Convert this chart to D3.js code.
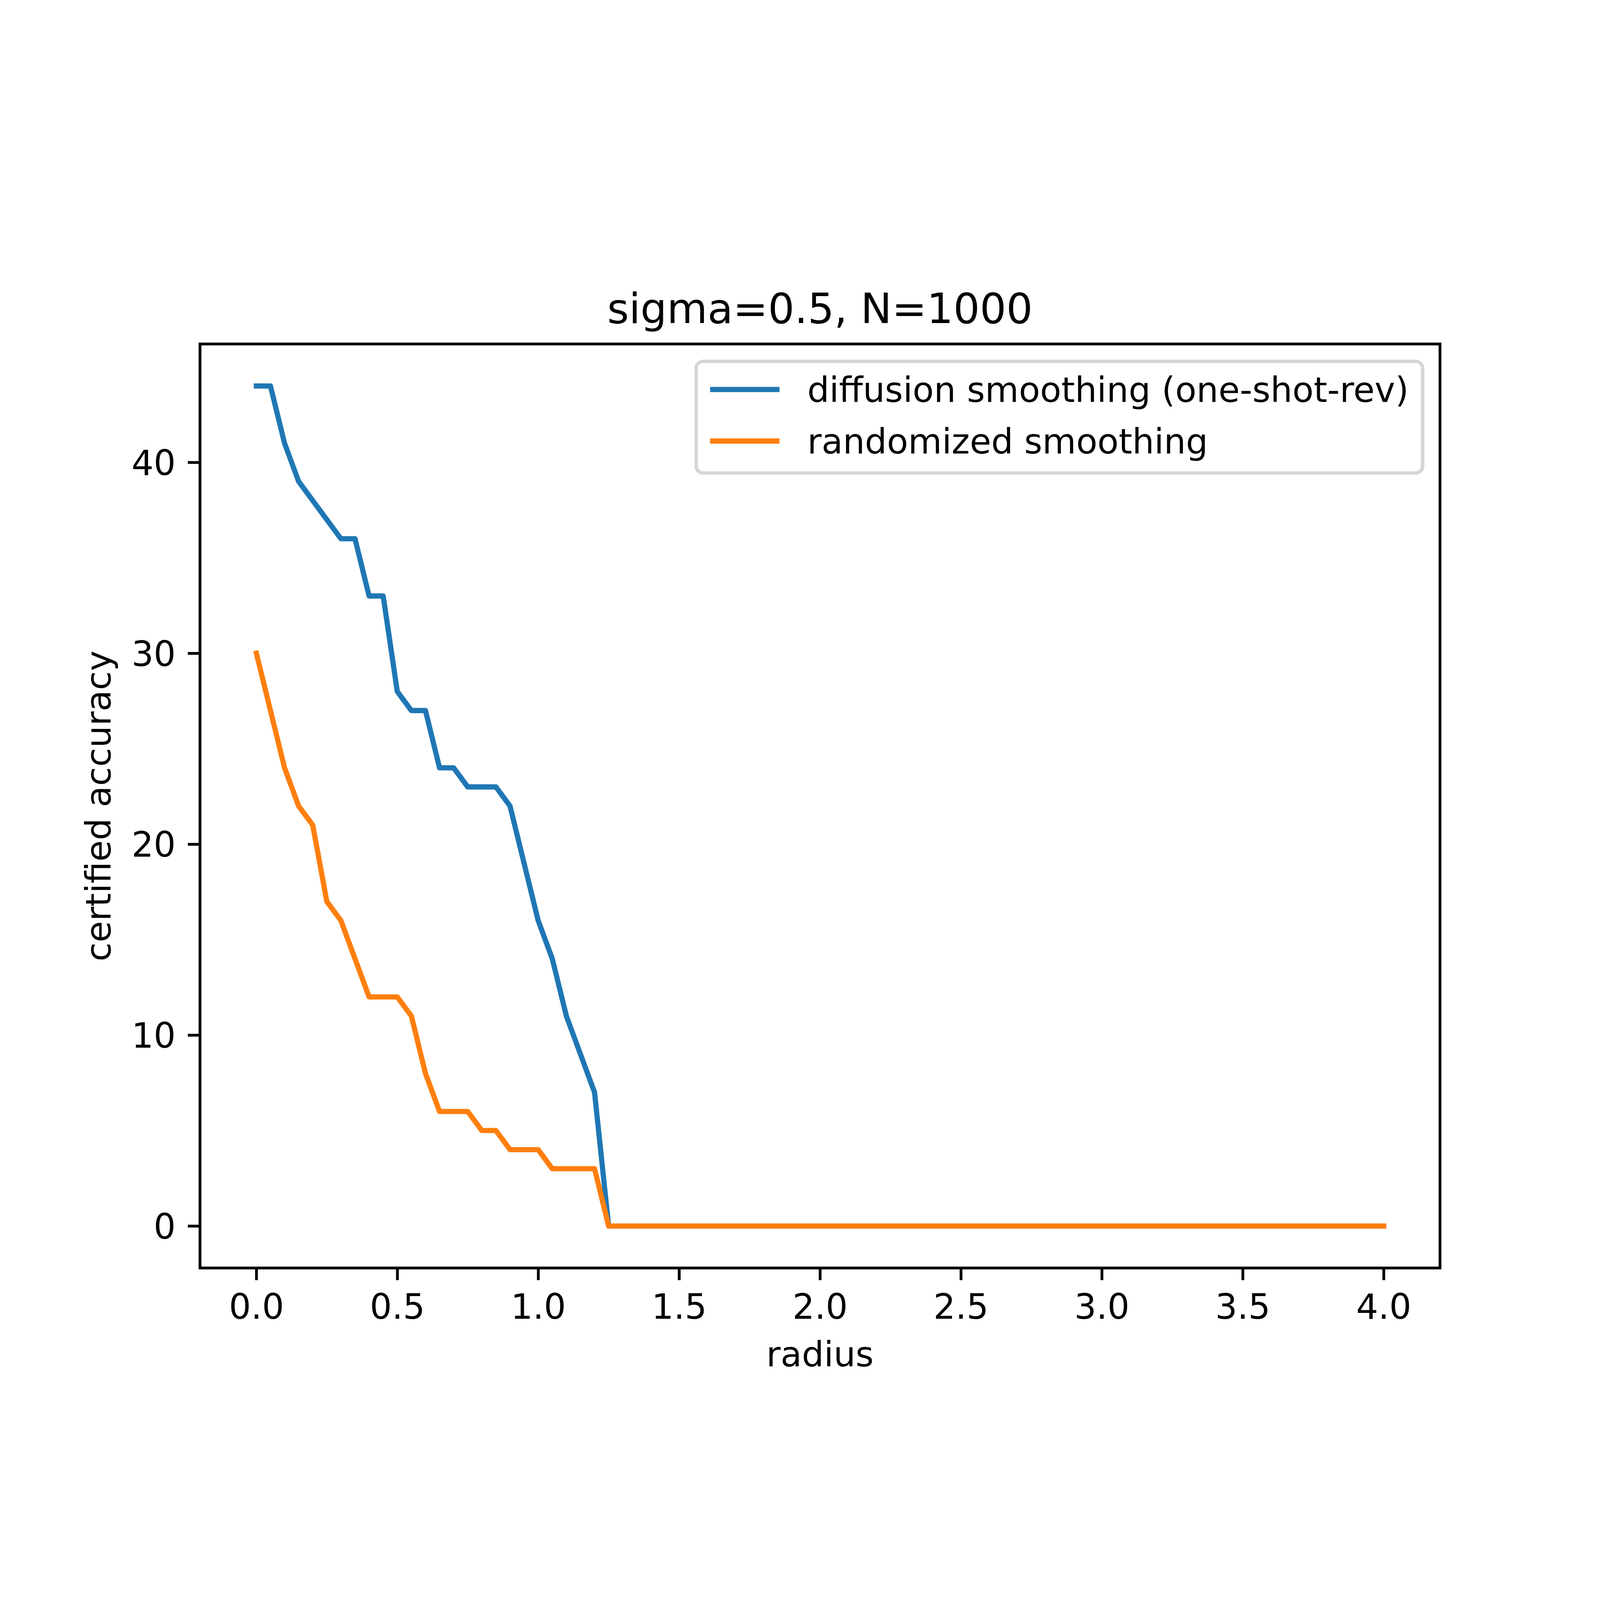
<!DOCTYPE html>
<html>
<head>
<meta charset="utf-8">
<script src="https://cdn.jsdelivr.net/npm/d3@7"></script>
<style>
  html, body { margin: 0; padding: 0; background: #fff; overflow: hidden; }
  #chart svg { display: block; width: 100vw; height: 100vh; }
  text { font-family: "DejaVu Sans", sans-serif; }
</style>
</head>
<body>
<div id="chart"></div>
<script>
// Data
const radius = [
  0.00, 0.05, 0.10, 0.15, 0.20, 0.25, 0.30, 0.35, 0.40, 0.45,
  0.50, 0.55, 0.60, 0.65, 0.70, 0.75, 0.80, 0.85, 0.90, 0.95,
  1.00, 1.05, 1.10, 1.15, 1.20, 1.25, 1.30, 1.35, 1.40, 1.45,
  1.50, 1.55, 1.60, 1.65, 1.70, 1.75, 1.80, 1.85, 1.90, 1.95,
  2.00, 2.05, 2.10, 2.15, 2.20, 2.25, 2.30, 2.35, 2.40, 2.45,
  2.50, 2.55, 2.60, 2.65, 2.70, 2.75, 2.80, 2.85, 2.90, 2.95,
  3.00, 3.05, 3.10, 3.15, 3.20, 3.25, 3.30, 3.35, 3.40, 3.45,
  3.50, 3.55, 3.60, 3.65, 3.70, 3.75, 3.80, 3.85, 3.90, 3.95,
  4.00
];

const diffusion = [
  44, 44, 41, 39, 38, 37, 36, 36, 33, 33,
  28, 27, 27, 24, 24, 23, 23, 23, 22, 19,
  16, 14, 11, 9, 7, 0, 0, 0, 0, 0,
  0, 0, 0, 0, 0, 0, 0, 0, 0, 0,
  0, 0, 0, 0, 0, 0, 0, 0, 0, 0,
  0, 0, 0, 0, 0, 0, 0, 0, 0, 0,
  0, 0, 0, 0, 0, 0, 0, 0, 0, 0,
  0, 0, 0, 0, 0, 0, 0, 0, 0, 0,
  0
];

const randomized = [
  30, 27, 24, 22, 21, 17, 16, 14, 12, 12,
  12, 11, 8, 6, 6, 6, 5, 5, 4, 4,
  4, 3, 3, 3, 3, 0, 0, 0, 0, 0,
  0, 0, 0, 0, 0, 0, 0, 0, 0, 0,
  0, 0, 0, 0, 0, 0, 0, 0, 0, 0,
  0, 0, 0, 0, 0, 0, 0, 0, 0, 0,
  0, 0, 0, 0, 0, 0, 0, 0, 0, 0,
  0, 0, 0, 0, 0, 0, 0, 0, 0, 0,
  0
];

const seriesNames = ["diffusion smoothing (one-shot-rev)", "randomized smoothing"];
const seriesColors = ["#1f77b4", "#ff7f0e"];
const xTicks = [0, 0.5, 1, 1.5, 2, 2.5, 3, 3.5, 4];
const yTicks = [0, 10, 20, 30, 40];

// Figure geometry (matplotlib defaults at 1000 dpi)
const width = 6400, height = 4800;
const pt = 1000 / 72;
const fs = 10 * pt;
const margin = { left: 800, right: 640, top: 576, bottom: 528 };
const plotW = width - margin.left - margin.right;
const plotH = height - margin.top - margin.bottom;

const svg = d3.select("#chart")
    .append("svg")
    .attr("viewBox", `0 0 ${width} ${height}`)
    .attr("preserveAspectRatio", "xMidYMid meet");

svg.append("rect")
    .attr("width", width)
    .attr("height", height)
    .attr("fill", "#fff");

const g = svg.append("g")
    .attr("transform", `translate(${margin.left},${margin.top})`);

// Scales with 5% margins like matplotlib autoscaling
const xExt = d3.extent(radius);
const xPad = (xExt[1] - xExt[0]) * 0.05;
const x = d3.scaleLinear()
    .domain([xExt[0] - xPad, xExt[1] + xPad])
    .range([0, plotW]);

const yMax = d3.max(diffusion.concat(randomized));
const yMin = d3.min(diffusion.concat(randomized));
const yPad = (yMax - yMin) * 0.05;
const y = d3.scaleLinear()
    .domain([yMin - yPad, yMax + yPad])
    .range([plotH, 0]);

// Lines
const line = d3.line()
    .x(d => x(d[0]))
    .y(d => y(d[1]));

[diffusion, randomized].forEach((vals, i) => {
    g.append("path")
        .datum(radius.map((r, j) => [r, vals[j]]))
        .attr("fill", "none")
        .attr("stroke", seriesColors[i])
        .attr("stroke-width", 1.5 * pt)
        .attr("stroke-linejoin", "round")
        .attr("stroke-linecap", "square")
        .attr("d", line);
});

// Axes
const tickLen = 3.5 * pt;
const xAxis = g.append("g")
    .attr("transform", `translate(0,${plotH})`)
    .call(d3.axisBottom(x)
        .tickValues(xTicks)
        .tickFormat(d3.format(".1f"))
        .tickSizeInner(tickLen)
        .tickSizeOuter(0)
        .tickPadding(3.5 * pt));

const yAxis = g.append("g")
    .call(d3.axisLeft(y)
        .tickValues(yTicks)
        .tickFormat(d3.format("d"))
        .tickSizeInner(tickLen)
        .tickSizeOuter(0)
        .tickPadding(3.5 * pt));

[xAxis, yAxis].forEach(ax => {
    ax.select(".domain").remove();
    ax.selectAll(".tick line")
        .attr("stroke", "#000")
        .attr("stroke-width", 0.8 * pt);
    ax.selectAll(".tick text")
        .attr("fill", "#000")
        .style("font-size", fs + "px")
        .style("font-family", "DejaVu Sans");
});
xAxis.selectAll(".tick text").attr("dy", "0.76em");
yAxis.selectAll(".tick text").attr("dy", "0.36em");

// Spines
g.append("rect")
    .attr("width", plotW)
    .attr("height", plotH)
    .attr("fill", "none")
    .attr("stroke", "#000")
    .attr("stroke-width", 0.8 * pt)
    .attr("stroke-linejoin", "miter");

// Title and axis labels
g.append("text")
    .attr("x", plotW / 2)
    .attr("y", -6 * pt)
    .attr("text-anchor", "middle")
    .style("font-size", (12 * pt) + "px")
    .text("sigma=0.5, N=1000");

g.append("text")
    .attr("x", plotW / 2)
    .attr("y", 4666 - margin.top)
    .attr("text-anchor", "middle")
    .style("font-size", fs + "px")
    .text("radius");

g.append("text")
    .attr("transform", `translate(${442 - margin.left},${plotH / 2}) rotate(-90)`)
    .attr("text-anchor", "middle")
    .style("font-size", fs + "px")
    .text("certified accuracy");

// Legend (upper right)
const legend = g.append("g");
const pad = 0.5 * fs;
const borderPad = 0.4 * fs;
const handleLen = 2.0 * fs;
const handleGap = 0.8 * fs;
const rowY = [758 - margin.top, 964 - margin.top];

const frame = legend.append("rect")
    .attr("fill", "#fff")
    .attr("fill-opacity", 0.8)
    .attr("stroke", "#cccccc")
    .attr("stroke-opacity", 0.8)
    .attr("stroke-width", 1.0 * pt)
    .attr("rx", 0.2 * fs)
    .attr("ry", 0.2 * fs);

const labels = legend.selectAll("text.lab")
    .data(seriesNames)
    .enter()
    .append("text")
    .attr("class", "lab")
    .attr("y", (d, i) => rowY[i])
    .attr("dy", "0.36em")
    .style("font-size", fs + "px")
    .text(d => d);

const textW = d3.max(labels.nodes(), n => n.getComputedTextLength());
const boxW = borderPad * 2 + handleLen + handleGap + textW;
const boxRight = plotW - pad;
const boxLeft = boxRight - boxW;
const boxTop = pad;
const boxBottom = 1092 - margin.top;

frame.attr("x", boxLeft)
    .attr("y", boxTop)
    .attr("width", boxW)
    .attr("height", boxBottom - boxTop);

labels.attr("x", boxLeft + borderPad + handleLen + handleGap);

legend.selectAll("line.handle")
    .data(seriesColors)
    .enter()
    .append("line")
    .attr("class", "handle")
    .attr("x1", boxLeft + borderPad)
    .attr("x2", boxLeft + borderPad + handleLen)
    .attr("y1", (d, i) => rowY[i])
    .attr("y2", (d, i) => rowY[i])
    .attr("stroke", d => d)
    .attr("stroke-width", 1.5 * pt);
</script>
</body>
</html>
